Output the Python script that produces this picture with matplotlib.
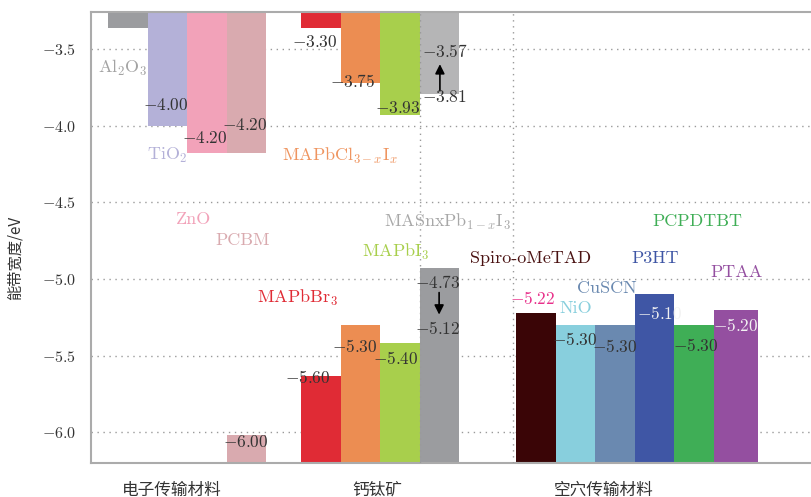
import matplotlib
matplotlib.use("Agg")
import matplotlib.pyplot as plt
import numpy as np

plt.rcParams['font.family'] = ['cmr10', 'Noto Sans CJK SC', 'DejaVu Sans']
plt.rcParams['mathtext.fontset'] = 'cm'
plt.rcParams['axes.formatter.use_mathtext'] = True

# electron transport materials
etm_names = ['Al$_2$O$_3$', 'TiO$_2$', 'ZnO', 'PCBM']
etm_lumo = [-3.36, -4.00, -4.18, -4.18]
etm_homo = [None, None, None, -6.02]
etm_colors = ['#9b9c9f', '#b4b1d8', '#f2a2b9', '#d9aaaf']
etm_name_colors = ['#a3a3a3', '#b4b1d8', '#f2a2b9', '#d9aaaf']

# perovskites
per_names = ['MAPbBr$_3$', 'MAPbCl$_{3-x}$I$_x$', 'MAPbI$_3$', 'MASnxPb$_{1-x}$I$_3$']
per_lumo = [-3.36, -3.72, -3.93, -3.79]
per_homo = [-5.63, -5.30, -5.42, -4.93]
per_top_colors = ['#e02b35', '#ec8d52', '#a8cf4c', '#b5b5b6']
per_bot_colors = ['#e02b35', '#ec8d52', '#a8cf4c', '#9b9c9f']
per_name_colors = ['#e02b35', '#ef9560', '#a8cf4c', '#a8a8a8']

# hole transport materials
htm_names = ['Spiro-oMeTAD', 'NiO', 'CuSCN', 'P3HT', 'PCPDTBT', 'PTAA']
htm_homo = [-5.22, -5.30, -5.30, -5.10, -5.30, -5.20]
htm_colors = ['#3a0506', '#88cfdd', '#6a89b0', '#3f56a5', '#3fae56', '#944fa0']
htm_name_colors = ['#4a1212', '#88cfdd', '#6a89b0', '#3f56a5', '#3fae56', '#944fa0']

# printed level values
val_labels = [-4.00, -4.20, -4.20, -6.00, -3.30, -3.75, -3.93, -3.57, -3.81,
              -5.60, -5.30, -5.40, -4.73, -5.12,
              -5.22, -5.30, -5.30, -5.10, -5.30, -5.20]
val_colors = ['#333333'] * 14 + ['#e8308a', '#333333', '#333333', '#f2f2f2', '#333333', '#f2f2f2']

yticks = [-6.0, -5.5, -5.0, -4.5, -4.0, -3.5]
groups = ['电子传输材料', '钙钛矿', '空穴传输材料']

# layout
ymin, ymax = -6.20, -3.258
etm_x = 0.43 + np.arange(4)
per_x = 5.30 + np.arange(4)
htm_x = 10.73 + np.arange(6)
htm_w = [1, 1, 1, 1, 1, 1.1]
val_pos = [(1.31, -3.866), (2.30, -4.081), (3.31, -3.996), (3.33, -6.065),
           (5.08, -3.454), (6.04, -3.709), (7.17, -3.885), (8.36, -3.513), (8.36, -3.813),
           (4.90, -5.641), (6.09, -5.438), (7.12, -5.517), (8.18, -5.021), (8.18, -5.321),
           (10.58, -5.125), (11.64, -5.393), (12.65, -5.438), (13.79, -5.223),
           (14.70, -5.432), (15.71, -5.302)]
name_pos = [(0.81, -3.624), (1.92, -4.192), (2.58, -4.61), (3.84, -4.747),
            (5.20, -5.125), (6.29, -4.198), (7.70, -4.825), (8.99, -4.629),
            (11.09, -4.864), (12.25, -5.191), (13.03, -5.06), (14.24, -4.864),
            (15.30, -4.623), (16.29, -4.956)]
group_x = [2.05, 7.22, 12.95]

fig = plt.figure(figsize=(8.11, 4.97), dpi=100)
ax = fig.add_axes([0.1122, 0.0684, 0.8878, 0.9074])

# bars hanging from the top (LUMO) and rising from the bottom (HOMO)
for x, v, c in zip(etm_x, etm_lumo, etm_colors):
    ax.bar(x, v - ymax, bottom=ymax, width=1, align='edge', color=c, lw=0)
for x, v, c in zip(etm_x, etm_homo, etm_colors):
    if v is not None:
        ax.bar(x, v - ymin, bottom=ymin, width=1, align='edge', color=c, lw=0)
for x, v, c in zip(per_x, per_lumo, per_top_colors):
    ax.bar(x, v - ymax, bottom=ymax, width=1, align='edge', color=c, lw=0)
for x, v, c in zip(per_x, per_homo, per_bot_colors):
    ax.bar(x, v - ymin, bottom=ymin, width=1, align='edge', color=c, lw=0)
htm_bars = []
for x, v, c, w in zip(htm_x, htm_homo, htm_colors, htm_w):
    b = ax.bar(x, v - ymin, bottom=ymin, width=w, align='edge', color=c, lw=0)
    htm_bars.append(b[0])

names = etm_names + per_names + htm_names
name_colors = etm_name_colors + per_name_colors + htm_name_colors
for n, (x, y), c in zip(names, name_pos, name_colors):
    ax.text(x, y, n, color=c, fontsize=13, ha='center', va='center', zorder=5)

for i, (v, (x, y), c) in enumerate(zip(val_labels, val_pos, val_colors)):
    t = ax.text(x, y, '$%.2f$' % v, color=c, fontsize=12.5, ha='left', va='center', zorder=5)
    if i == 17:
        t.set_clip_path(htm_bars[3])

ax.annotate('', xy=(8.81, -3.58), xytext=(8.81, -3.79),
            arrowprops=dict(arrowstyle='-|>', color='black', lw=1.2, mutation_scale=14))
ax.annotate('', xy=(8.79, -5.25), xytext=(8.79, -5.07),
            arrowprops=dict(arrowstyle='-|>', color='black', lw=1.2, mutation_scale=14))

dots = (0, (1, 3.3))
ax.set_axisbelow(True)
ax.yaxis.grid(True, linestyle=dots, color='#9a9a9a', lw=1.0)
ax.axvline(8.30, linestyle=dots, color='#9a9a9a', lw=1.0, zorder=4)
ax.axvline(10.66, linestyle=dots, color='#9a9a9a', lw=1.0, zorder=4)

ax.set_xlim(0, 18.18)
ax.set_ylim(ymin, ymax)
ax.set_yticks(yticks)
ax.set_yticklabels(['$%.1f$' % v for v in yticks], fontsize=11.5)
ax.tick_params(axis='y', length=0, pad=11, colors='#333333')
ax.set_xticks([])

for s in ['left', 'top', 'bottom']:
    ax.spines[s].set_color('#ababab')
    ax.spines[s].set_linewidth(1.5)
ax.spines['right'].set_visible(False)

for g, x in zip(groups, group_x):
    ax.text(x, -0.06, g, transform=ax.get_xaxis_transform(), ha='center', va='center',
            fontsize=12, color='#333333', family=['Noto Sans CJK SC'])

fig.text(15 / 811, 1 - 258 / 497, '能带宽度/eV', rotation=90, ha='center', va='center',
         fontsize=11, color='#333333', family=['Noto Sans CJK SC', 'DejaVu Sans'])

fig.savefig('out.png', dpi=100)
